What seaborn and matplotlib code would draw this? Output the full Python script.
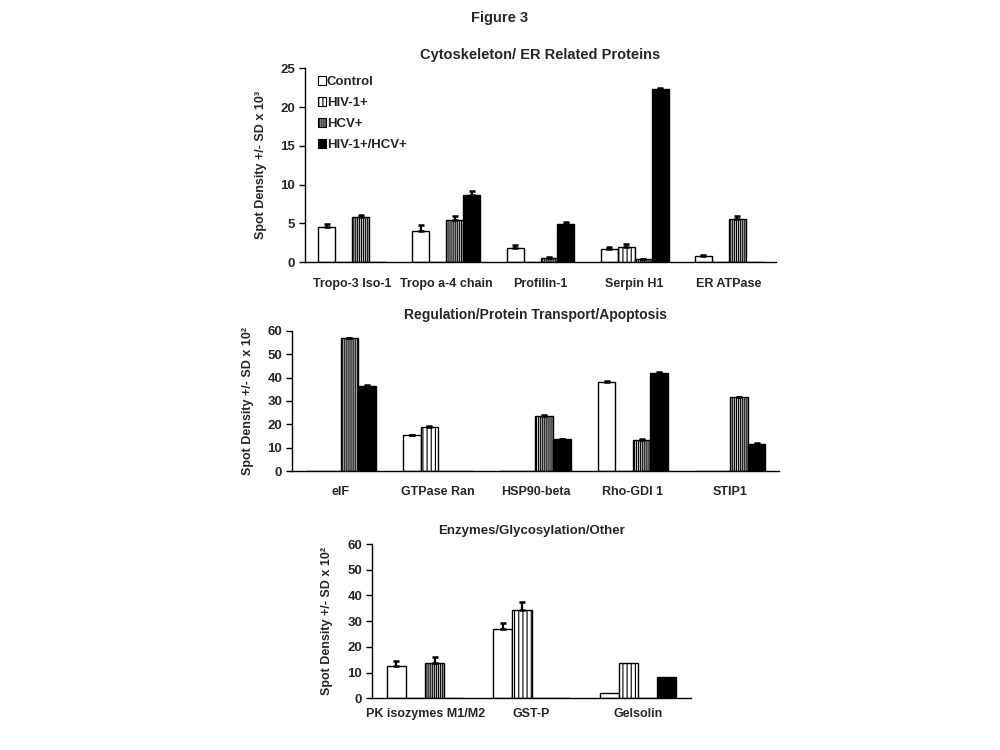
import matplotlib
matplotlib.use("Agg")
import matplotlib.pyplot as plt
from matplotlib.patches import Patch
import numpy as np
import pandas as pd
import seaborn as sns

# ---------------- data ----------------
groups = ["Control", "HIV-1+", "HCV+", "HIV-1+/HCV+"]

cyto_proteins = ["Tropo-3 Iso-1", "Tropo a-4 chain", "Profilin-1", "Serpin H1", "ER ATPase"]
cyto_control = [4.6, 4.0, 1.9, 1.7, 0.8]
cyto_hiv = [0, 0, 0, 2.0, 0]
cyto_hcv = [5.8, 5.4, 0.55, 0.43, 5.6]
cyto_both = [0, 8.7, 4.9, 22.3, 0]
cyto_control_sd = [0.3, 0.85, 0.3, 0.25, 0.13]
cyto_hiv_sd = [0, 0, 0, 0.3, 0]
cyto_hcv_sd = [0.25, 0.55, 0.12, 0.05, 0.3]
cyto_both_sd = [0, 0.47, 0.25, 0.2, 0]

reg_proteins = ["eIF", "GTPase Ran", "HSP90-beta", "Rho-GDI 1", "STIP1"]
reg_control = [0, 15.2, 0, 38.2, 0]
reg_hiv = [0, 18.8, 0, 0, 0]
reg_hcv = [56.7, 0, 23.6, 13.4, 31.5]
reg_both = [36.3, 0, 13.5, 42.0, 11.5]
reg_control_sd = [0, 0.4, 0, 0.5, 0]
reg_hiv_sd = [0, 0.5, 0, 0, 0]
reg_hcv_sd = [0.3, 0, 0.3, 0.3, 0.3]
reg_both_sd = [0.4, 0, 0.3, 0.4, 0.3]

enz_proteins = ["PK isozymes M1/M2", "GST-P", "Gelsolin"]
enz_control = [12.7, 27.1, 2.2]
enz_hiv = [0, 34.5, 13.9]
enz_hcv = [13.6, 0, 0]
enz_both = [0, 0, 8.4]
enz_control_sd = [1.7, 2.3, 0]
enz_hiv_sd = [0, 3.1, 0]
enz_hcv_sd = [2.5, 0, 0]
enz_both_sd = [0, 0, 0]

# ---------------- style ----------------
sns.set_style("white")
plt.rcParams["font.family"] = ["Liberation Sans", "DejaVu Sans"]
plt.rcParams["font.weight"] = "bold"
plt.rcParams["axes.labelweight"] = "bold"
plt.rcParams["axes.titleweight"] = "bold"
plt.rcParams["hatch.linewidth"] = 0.8
plt.rcParams["hatch.color"] = "black"

palette = {"Control": "white", "HIV-1+": "white", "HCV+": "#cfcfcf", "HIV-1+/HCV+": "black"}
hatches = {"Control": "", "HIV-1+": "||||", "HCV+": "||||||||", "HIV-1+/HCV+": ""}


def panel(ax, proteins, series, sds, ymax, ystep, title, ylabel, title_pad, title_size, ylab_x, xpad):
    df = pd.DataFrame({
        "protein": [p for _ in groups for p in proteins],
        "group": [g for g in groups for _ in proteins],
        "value": [v for s in series for v in s],
    })
    sns.barplot(data=df, x="protein", y="value", hue="group", order=proteins,
                hue_order=groups, palette=palette, edgecolor="black", linewidth=1,
                width=0.72, gap=0, errorbar=None, legend=False, saturation=1, ax=ax)
    for cont, g, sd in zip(ax.containers, groups, sds):
        for bar, e in zip(cont.patches, sd):
            bar.set_hatch(hatches[g])
            if e > 0:
                ax.errorbar(bar.get_x() + bar.get_width() / 2, bar.get_height(),
                            yerr=[[0], [e]], fmt="none", ecolor="black",
                            elinewidth=1.6, capsize=2.5, capthick=1.8, zorder=3)
    n = len(proteins)
    ax.set_xlim(-0.5, n - 0.5)
    ax.set_ylim(0, ymax)
    ax.set_yticks(np.arange(0, ymax + 0.1, ystep))
    ax.set_xticks(range(n))
    ax.set_xticks(np.arange(-0.5, n), minor=True)
    ax.tick_params(axis="x", which="major", length=0, pad=xpad, labelsize=9)
    ax.tick_params(axis="x", which="minor", length=4, width=1, direction="out", color="black")
    ax.tick_params(axis="y", length=4, width=1, direction="out", left=True, labelsize=9.5, pad=3, color="black")
    for s in ["top", "right"]:
        ax.spines[s].set_visible(False)
    for s in ["left", "bottom"]:
        ax.spines[s].set_color("black")
        ax.spines[s].set_linewidth(1)
    ax.set_xlabel("")
    ax.set_ylabel(ylabel, fontsize=9)
    ax.yaxis.set_label_coords(ylab_x, 0.5)
    ax.set_title(title, fontsize=title_size, pad=title_pad)


fig = plt.figure(figsize=(10, 7.5), dpi=100)
fig.text(0.5, 1 - 18 / 750, "Figure 3", ha="center", va="center", fontsize=10.5, fontweight="bold")

ax1 = fig.add_axes([0.305, 0.6503, 0.471, 0.2587])
panel(ax1, cyto_proteins, [cyto_control, cyto_hiv, cyto_hcv, cyto_both],
      [cyto_control_sd, cyto_hiv_sd, cyto_hcv_sd, cyto_both_sd], 25, 5,
      "Cytoskeleton/ ER Related Proteins", "Spot Density +/- SD x 10³", 6.5, 10.5, -0.081, 11)
handles = [Patch(facecolor=palette[g], edgecolor="black", hatch=hatches[g], linewidth=0.8) for g in groups]
ax1.legend(handles, groups, loc="upper left", bbox_to_anchor=(0.01, 1.0), frameon=False,
           handlelength=0.6, handleheight=0.6, handletextpad=0.1, labelspacing=0.68,
           prop={"weight": "bold", "size": 9.5}, borderaxespad=0.2)

ax2 = fig.add_axes([0.292, 0.372, 0.487, 0.187])
panel(ax2, reg_proteins, [reg_control, reg_hiv, reg_hcv, reg_both],
      [reg_control_sd, reg_hiv_sd, reg_hcv_sd, reg_both_sd], 60, 10,
      "Regulation/Protein Transport/Apoptosis", "Spot Density +/- SD x 10²", 8.5, 10, -0.078, 11)

ax3 = fig.add_axes([0.372, 0.0689, 0.319, 0.2057])
panel(ax3, enz_proteins, [enz_control, enz_hiv, enz_hcv, enz_both],
      [enz_control_sd, enz_hiv_sd, enz_hcv_sd, enz_both_sd], 60, 10,
      "Enzymes/Glycosylation/Other", "Spot Density +/- SD x 10²", 7, 9.5, -0.122, 7)

fig.savefig("out.png", dpi=100)
